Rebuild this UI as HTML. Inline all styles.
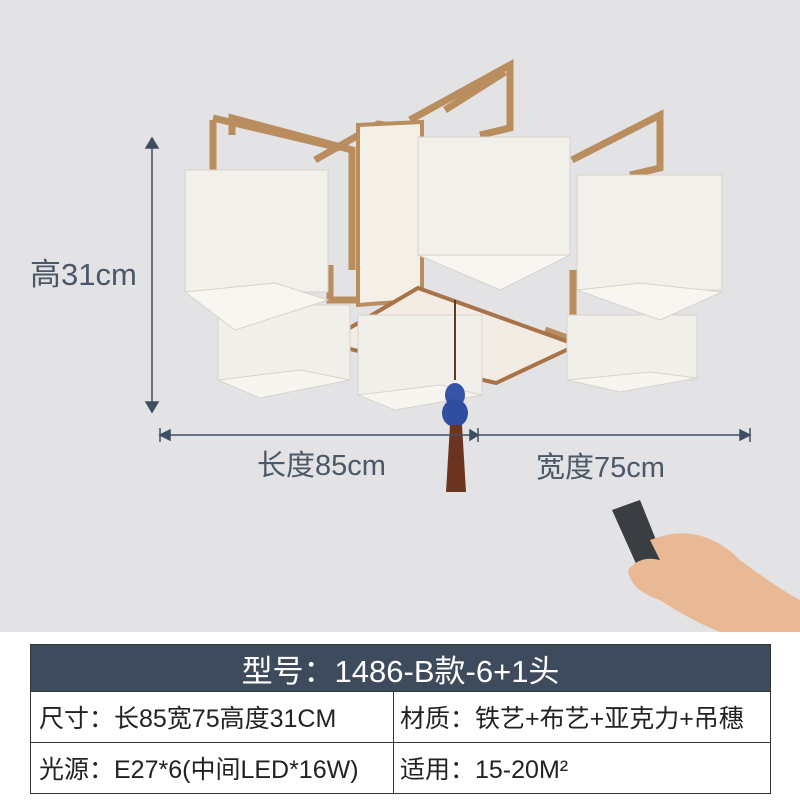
<!DOCTYPE html>
<html><head><meta charset="utf-8"><style>
body{margin:0;width:800px;height:800px;overflow:hidden;background:#fff;font-family:"Liberation Sans","Noto Sans CJK SC",sans-serif}
#bg{position:absolute;left:0;top:0;width:800px;height:632px;background:#e3e2e4}
svg{position:absolute;left:0;top:0}
table{position:absolute;left:30px;top:644px;width:741px;border-collapse:collapse;color:#222}
td{font-size:25px;padding:0 0 0 8px;height:50px;border:1px solid #333;white-space:nowrap}
.h{background:#3e4b5c;color:#fff;text-align:center;font-size:31px;height:46px;padding:0}
.d{border-left:1px dashed #333;padding-left:6px}
.r2 td{border-top:1px dashed #333}
</style></head><body>
<div id="bg"></div>
<svg width="800" height="640" viewBox="0 0 800 640">
<g fill="none" stroke="#b98d5e" stroke-width="7">
<path d="M232 135 L232 118 L352 150 L352 270"/>
<path d="M213 120 L213 170"/>
<path d="M213 118 L340 148"/>
<path d="M410 120 L510 65 L510 128 L480 135"/>
<path d="M445 110 L505 72"/>
<path d="M572 160 L660 115 L660 168 L630 175"/>
<path d="M315 160 L378 124 L420 130"/>
<path d="M330 265 L330 300 L360 300 M330 330 L330 320 L345 320"/>
<path d="M573 270 L573 340 L545 330 M425 350 L465 360 L465 340 M447 310 L447 340"/>
</g>
<polygon points="358,125 422,122 422,300 358,305" fill="#f4f0e8" stroke="#b98d5e" stroke-width="4"/>
<polygon points="324,343 418,288 577,345 496,383" fill="#f3ece4" stroke="#a9734a" stroke-width="4"/>
<g stroke="#d8d3cc" stroke-width="1">
<rect x="218" y="305" width="132" height="75" fill="#f1efea"/>
<polygon points="218,380 260,398 350,380 300,370" fill="#f7f5f0"/>
<rect x="358" y="315" width="124" height="80" fill="#f1efea"/>
<polygon points="358,395 395,410 482,395 440,385" fill="#f7f5f0"/>
<rect x="567" y="315" width="130" height="65" fill="#f1efea"/>
<polygon points="567,380 620,392 697,378 650,372" fill="#f7f5f0"/>
<rect x="185" y="170" width="143" height="122" fill="#f2f0eb"/>
<polygon points="185,292 235,330 328,300 275,283" fill="#f8f6f1"/>
<rect x="418" y="137" width="152" height="118" fill="#f2f0eb"/>
<polygon points="418,255 500,290 570,255" fill="#f8f6f1"/>
<rect x="577" y="175" width="145" height="115" fill="#f2f0eb"/>
<polygon points="577,290 660,320 722,292 640,283" fill="#f8f6f1"/>
</g>
<line x1="455" y1="300" x2="455" y2="380" stroke="#5a3a2a" stroke-width="2"/>
<ellipse cx="455" cy="395" rx="10" ry="12" fill="#3654a8"/>
<ellipse cx="455" cy="413" rx="13" ry="14" fill="#2f4ea0"/>
<polygon points="450,425 462,425 466,492 446,492" fill="#6b3420"/>
<g stroke="#3f4f60" stroke-width="1.5" fill="#3f4f60">
<line x1="152" y1="140" x2="152" y2="410"/>
<polygon points="146,148 152,138 158,148"/><polygon points="146,402 152,412 158,402"/>
<line x1="160" y1="435" x2="750" y2="435"/>
<polygon points="170,430 160,435 170,440"/><polygon points="470,430 478,435 470,440"/>
<polygon points="740,430 750,435 740,440"/>
<line x1="160" y1="428" x2="160" y2="442"/><line x1="478" y1="428" x2="478" y2="442"/><line x1="750" y1="428" x2="750" y2="442"/>
</g>
<g fill="#4a5867" font-family="Liberation Sans,Noto Sans CJK SC,sans-serif">
<text x="30" y="285" font-size="31">高31cm</text>
<text x="257" y="475" font-size="29">长度85cm</text>
<text x="536" y="477" font-size="29">宽度75cm</text>
</g>
<polygon points="612,510 640,500 672,580 650,595" fill="#3a3d42"/>
<path d="M650 540 Q700 520 740 560 Q780 590 800 600 L800 632 L720 632 Q690 620 660 600 Q630 590 628 570 Q640 555 660 560 Z" fill="#e9b895"/>
</svg>
<table>
<tr><td class="h" colspan="2">型号：1486-B款-6+1头</td></tr>
<tr><td style="width:354px">尺寸：长85宽75高度31CM</td><td class="d">材质：铁艺+布艺+亚克力+吊穗</td></tr>
<tr class="r2"><td>光源：E27*6(中间LED*16W)</td><td class="d">适用：15-20M²</td></tr>
</table>
</body></html>
